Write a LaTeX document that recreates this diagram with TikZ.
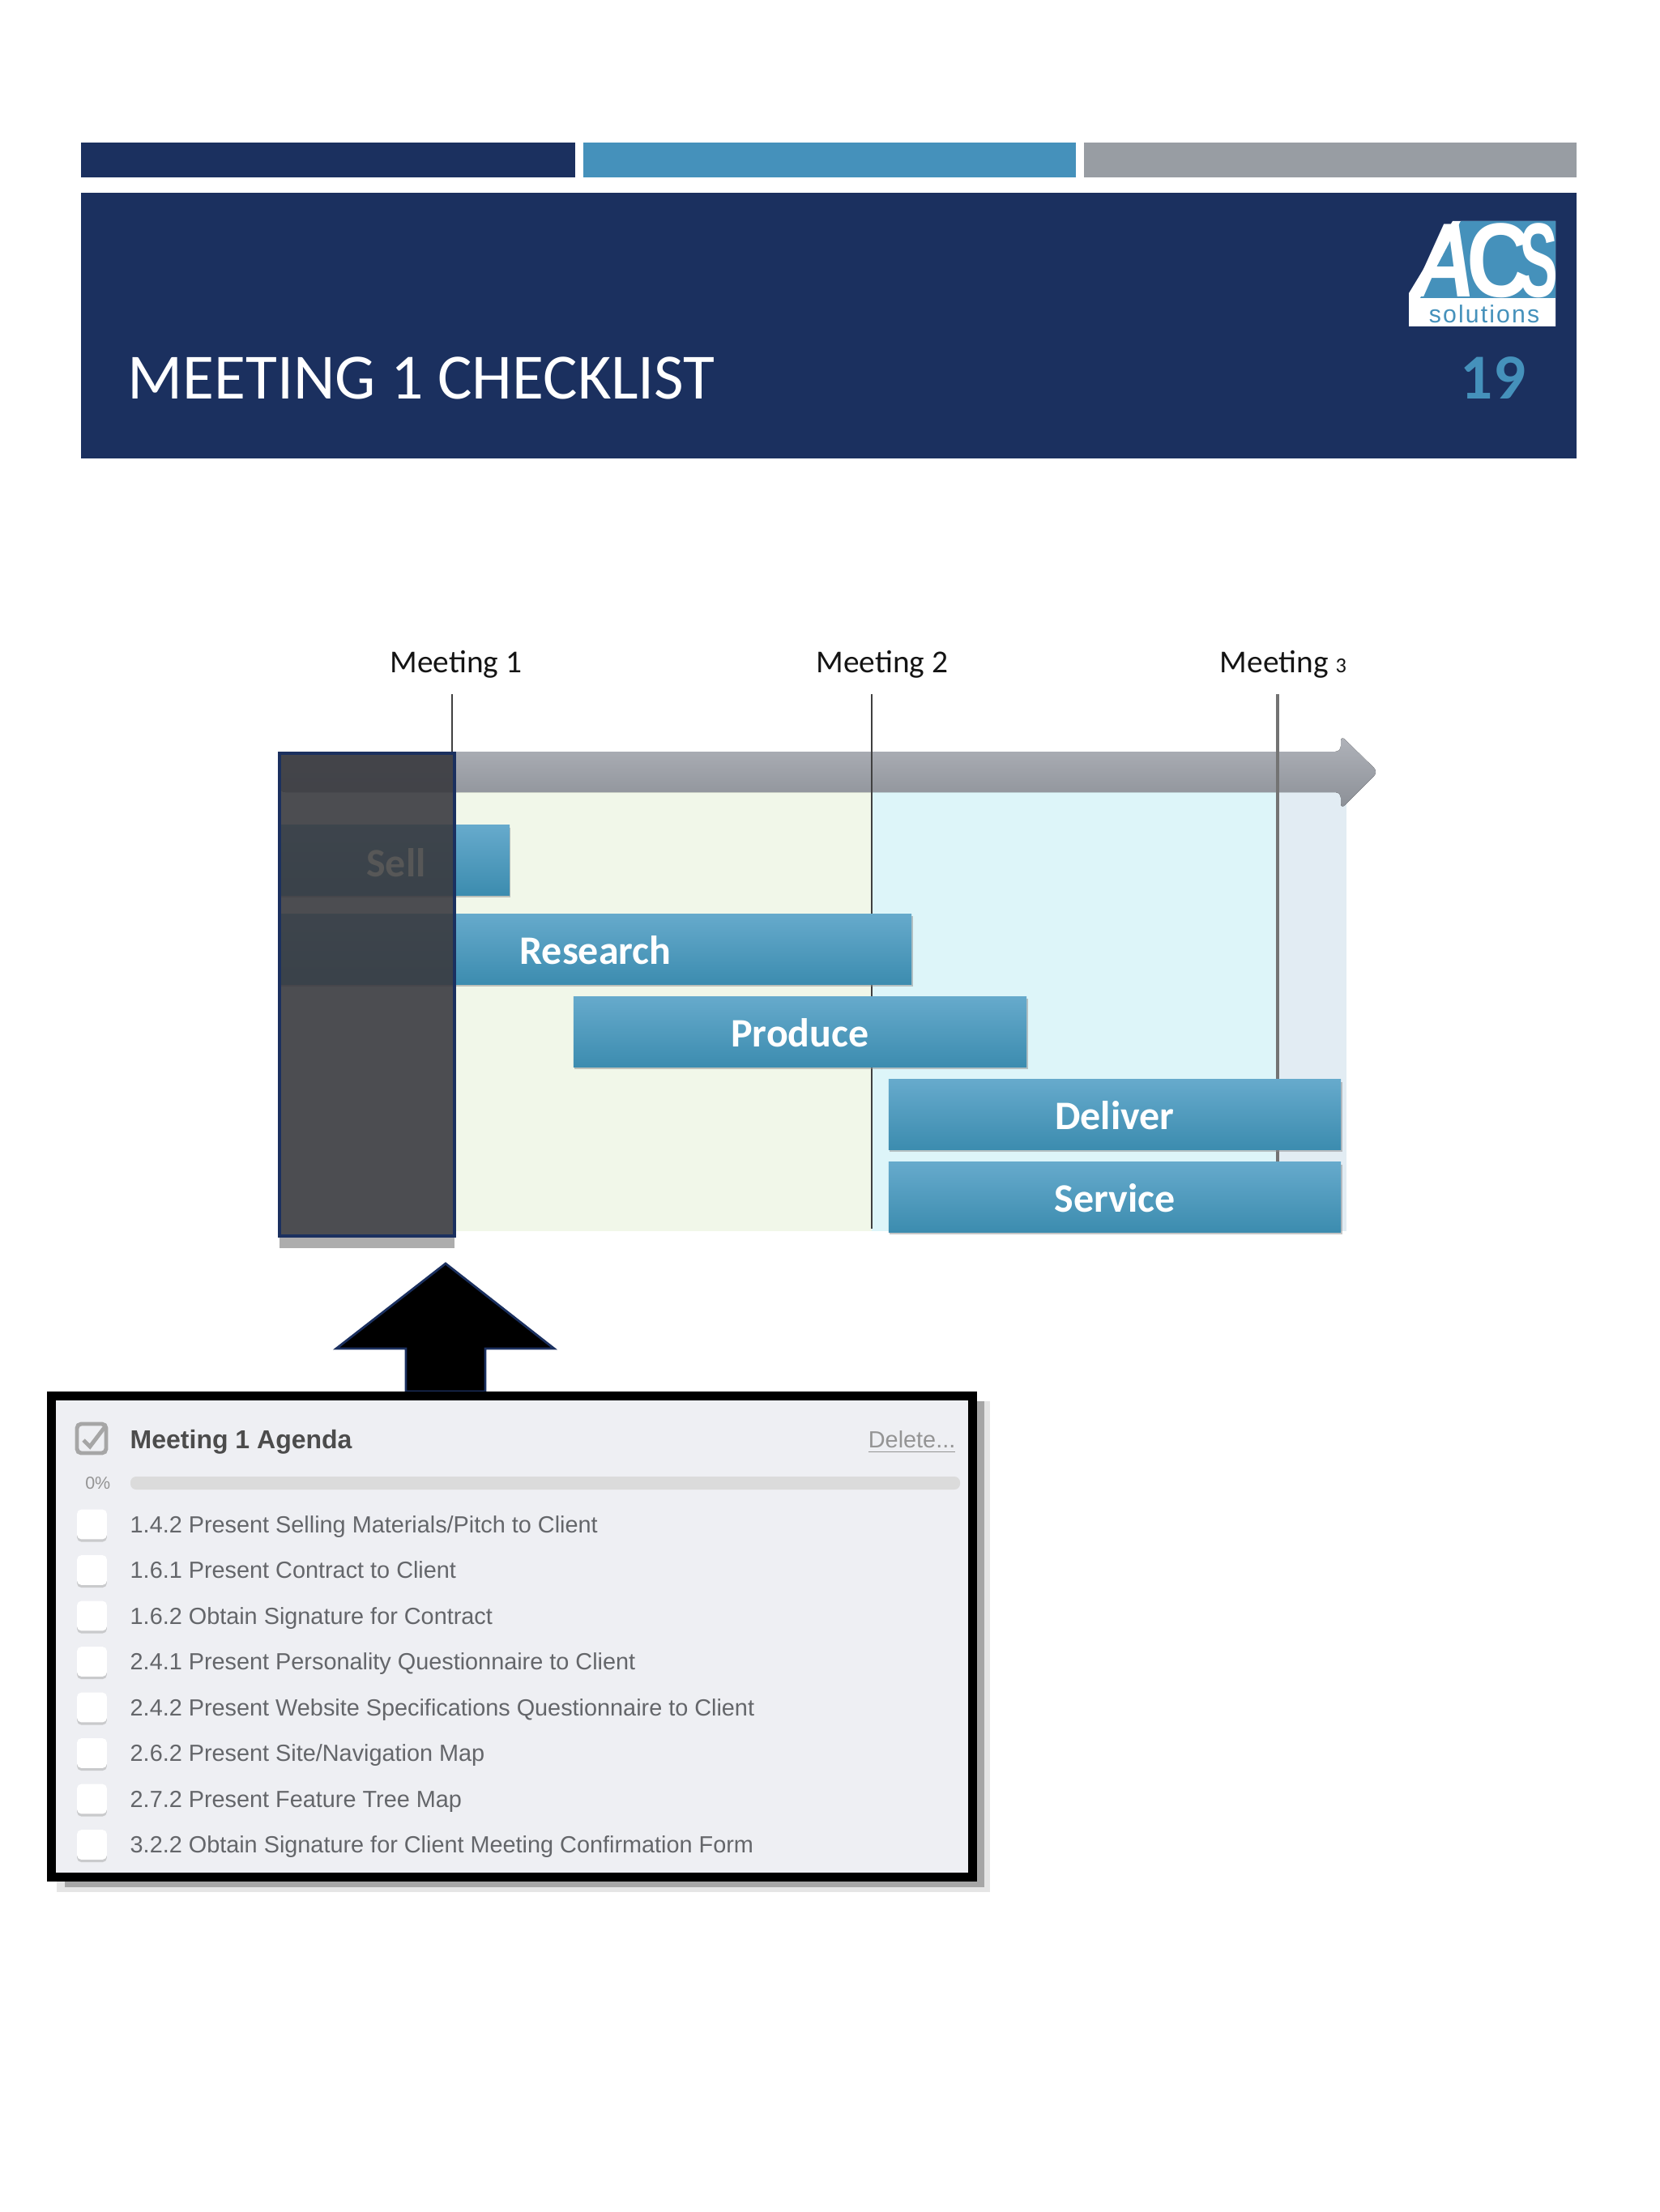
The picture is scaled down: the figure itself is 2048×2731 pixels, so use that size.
\documentclass[tikz,border=0pt]{standalone}
\usepackage{fontspec}
\usepackage{xcolor}
\setmainfont{Carlito}
\newfontfamily\uifont{Liberation Sans}
\usetikzlibrary{shadows, positioning, calc}
\definecolor{navy}{RGB}{27, 48, 95}
\definecolor{steel}{RGB}{69, 145, 187}
\definecolor{slate}{RGB}{152, 157, 163}
\definecolor{bartop}{RGB}{102, 170, 204}
\definecolor{barbot}{RGB}{60, 140, 175}
\definecolor{arrowtop}{RGB}{176, 179, 186}
\definecolor{arrowbot}{RGB}{139, 143, 150}
\definecolor{paleGreen}{RGB}{241, 247, 233}
\definecolor{paleCyan}{RGB}{221, 245, 249}
\definecolor{paleBlue}{RGB}{226, 236, 243}
\definecolor{panel}{RGB}{238, 239, 243}
\definecolor{itemtext}{RGB}{100, 102, 106}
\definecolor{veil}{RGB}{58, 59, 64}
\tikzset{
    barbox/.style={top color=bartop, bottom color=barbot, text=white, inner sep=0pt,
        text height=10.6pt, text depth=0pt,
        font=\fontsize{14.2}{16}\selectfont\bfseries,
        drop shadow={shadow xshift=0.4pt, shadow yshift=-0.8pt, fill=black!45, opacity=.5}},
    meetlabel/.style={font=\fontsize{11.2}{13}\selectfont, text=black!92, inner sep=0pt},
    meetline/.style={draw=black!75, line width=.75pt},
    chkbox/.style={fill=white, rounded corners=1.5pt, minimum width=1.05cm*.35, minimum height=1.05cm*.35, inner sep=0pt,
        drop shadow={shadow xshift=0pt, shadow yshift=-0.9pt, fill=black!35, opacity=.5}},
    itemlabel/.style={font=\uifont\fontsize{8.2}{10}\selectfont, text=itemtext, anchor=base west, inner sep=0pt}
}
\begin{document}
\begin{tikzpicture}[x=0.01cm, y=-0.01cm]
    \useasboundingbox (0,0) rectangle (2048,2731);
    % header
    \fill[navy] (100,176) rectangle (710,219);
    \fill[steel] (720,176) rectangle (1328,219);
    \fill[slate] (1338,176) rectangle (1946,219);
    \fill[navy] (100,238) rectangle (1946,566);
    \node[text=white, font=\fontsize{22.65}{26}\selectfont, anchor=west, inner sep=0pt] (title) at (157,467) {MEETING 1 CHECKLIST};
    \node[text=steel, font=\fontsize{22.5}{26}\selectfont\bfseries, inner sep=0pt] (pageno) at (1843,467) {19};
    \fill[white] (1739,362) -- (1793,273) -- (1920,273) -- (1920,403) -- (1739,403) -- cycle;
    \fill[steel] (1753,368) -- (1803,273) -- (1920,273) -- (1920,368) -- cycle;
    \node[text=white, inner sep=0pt, anchor=base west, font=\uifont\bfseries\fontsize{37}{40}\selectfont] (logo) at (1739,367) {{\addfontfeature{FakeSlant=.18}\scalebox{.83}[1]{A}}\kern-2pt\scalebox{.85}[1]{C}\kern-4.3pt\scalebox{.55}[1]{S}};
    \node[text=steel, inner sep=0pt, font=\uifont\fontsize{8.6}{10}\selectfont\addfontfeature{LetterSpace=7}] (logosub) at (1832,388) {solutions};
    % phases
    \fill[paleGreen] (561,978) rectangle (1076,1520);
    \fill[paleCyan] (1076,978) rectangle (1577,1520);
    \fill[paleBlue] (1577,978) rectangle (1662,1520);
    \coordinate (m1top) at (558,857);
    \coordinate (m2top) at (1076,857);
    \coordinate (m2bot) at (1076,1517);
    \coordinate (m3top) at (1577,857);
    \coordinate (m3bot) at (1577,1440);
    \fill[top color=arrowtop, bottom color=arrowbot, rounded corners=2pt] (345,928) -- (1655,928) -- (1655,908) -- (1701,953) -- (1655,999) -- (1655,978) -- (345,978) -- cycle;
    \draw[meetline] (m2top) -- (m2bot);
    \draw[meetline, draw=black!55, line width=.9pt] (m3top) -- (m3bot);
    \node[meetlabel] (meet1) at (563,820) {Meeting 1};
    \node[meetlabel] (meet2) at (1089,820) {Meeting 2};
    \node[meetlabel] (meet3) at (1584,820) {Meeting {\fontsize{7.5}{9}\selectfont 3}};
    \node[barbox, minimum width=2.84cm, minimum height=.86cm] (sell) at (487,1062) {};
    \node[barbox, minimum width=7.80cm, minimum height=.87cm] (research) at (735,1172) {Research};
    \node[barbox, minimum width=5.59cm, minimum height=.87cm] (produce) at (987.5,1274) {Produce};
    \node[barbox, minimum width=5.58cm, minimum height=.86cm] (deliver) at (1376,1376) {Deliver};
    \node[barbox, minimum width=5.58cm, minimum height=.86cm] (service) at (1376,1478) {Service};
    \fill[black!32] (345,1526) rectangle (561,1541);
    \node[draw=navy, line width=1pt, fill=veil, fill opacity=.91, minimum width=2.16cm, minimum height=5.96cm, inner sep=0pt] (focus) at (453,1228) {};
    \node[text=black!66, inner sep=0pt, font=\fontsize{14.2}{16}\selectfont\bfseries] (sellname) at (489,1065) {Sell};
    \draw[meetline] (m1top) -- (m1top |- focus.north);
    % pointer
    \draw[navy, line width=.8pt, fill=black] (550,1560) -- (684,1665) -- (599,1665) -- (599,1718) -- (501,1718) -- (501,1665) -- (415,1665) -- cycle;
    % checklist
    \fill[black!10] (70,1730) rectangle (1222,2336);
    \fill[black!35] (80,1730) rectangle (1215,2330);
    \node[draw=black, line width=3.1pt, fill=panel, minimum width=11.37cm, minimum height=5.94cm, inner sep=0pt] (panelbox) at (632,2020.5) {};
    \node[draw=black!35, line width=1.4pt, fill=panel, rounded corners=1.5pt, minimum width=.36cm, minimum height=.36cm, inner sep=0pt] (master) at (113,1776) {};
    \draw[black!35, line width=1.4pt] ($(master.center)+(-10,2)$) -- ($(master.center)+(-2,10)$) -- ($(master.center)+(17,-15)$);
    \node[itemlabel, font=\uifont\bfseries\fontsize{9.1}{11}\selectfont, text=black!70] (agenda) at (160,1788) {Meeting 1 Agenda};
    \node[itemlabel, anchor=base east, text=black!42] (delete) at (1180,1787) {\underline{Delete...}};
    \node[itemlabel, anchor=east, font=\uifont\fontsize{6.1}{8}\selectfont, text=black!42] (pct) at (137,1831) {0\%};
    \fill[black!14, rounded corners=2pt] (161,1823) rectangle (1185,1839);
    \foreach \txt [count=\i, evaluate=\i as \ypos using 1882+(\i-1)*56.5] in {1.4.2 Present Selling Materials/Pitch to Client, 1.6.1 Present Contract to Client, 1.6.2 Obtain Signature for Contract, 2.4.1 Present Personality Questionnaire to Client, 2.4.2 Present Website Specifications Questionnaire to Client, 2.6.2 Present Site/Navigation Map, 2.7.2 Present Feature Tree Map, 3.2.2 Obtain Signature for Client Meeting Confirmation Form} {
        \node[chkbox] (box\i) at (113.5,\ypos) {};
        \node[itemlabel] (item\i) at (160,\ypos+10) {\txt};
    }
\end{tikzpicture}
\end{document}
